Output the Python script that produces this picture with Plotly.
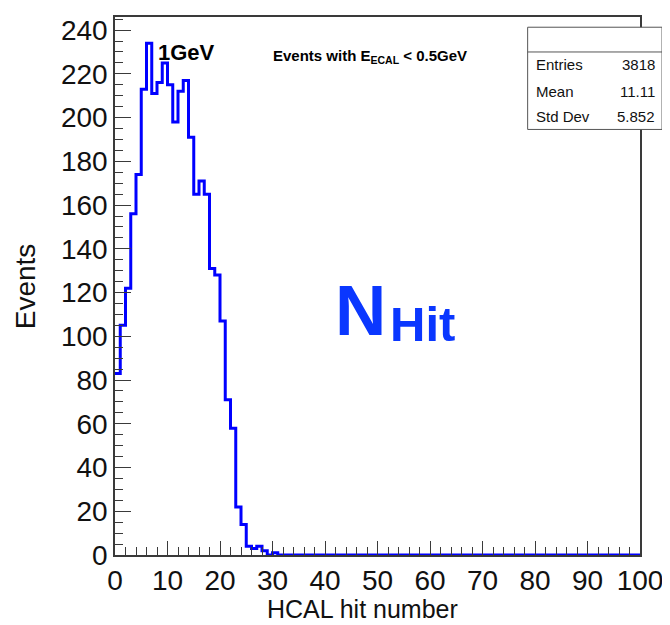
"""HCAL hit number histogram - ROOT-style Plotly rebuild."""
import plotly.graph_objects as go

FONT = "Liberation Sans, Arial, Helvetica, sans-serif"
BLUE = "#0000ff"
NHIT_BLUE = "#0a37ff"
FRAME = "#3a3a3a"

# histogram content, 100 bins of width 1 between 0 and 100
bin_lo = 0
bin_hi = 100
counts = [83, 105, 122, 156, 174, 213, 234, 211, 216, 225,
          215, 198, 212, 217, 191, 165, 171, 165, 131, 128,
          107, 71, 58, 22, 14, 4, 3, 4, 2, 0,
          1]
counts = counts + [0] * (bin_hi - bin_lo - len(counts))
edges = list(range(bin_lo, bin_hi + 1))

stat_names = ["Entries", "Mean", "Std Dev"]
stat_values = ["3818", "11.11", "5.852"]

fig = go.Figure()
fig.add_trace(go.Scatter(
    x=edges, y=counts + [counts[-1]], mode="lines", line_shape="hv",
    line=dict(color=BLUE, width=3), showlegend=False, hoverinfo="skip"))

axis_common = dict(
    showgrid=False, zeroline=False, showline=True, mirror=True,
    linecolor=FRAME, linewidth=1.5, ticks="inside", tickcolor=FRAME,
    tickwidth=1.2, tickfont=dict(size=28, family=FONT, color="#111"))

# the page body adds an 8px offset, so the figure is 8px smaller than the window
fig.update_layout(
    width=662, height=617,
    margin=dict(l=107, r=29, t=7, b=70),
    paper_bgcolor="white", plot_bgcolor="white",
    font=dict(family=FONT, color="#111"),
    xaxis=dict(range=[0, 100], dtick=10, ticklen=14,
               minor=dict(dtick=2, ticks="inside", ticklen=8, tickcolor=FRAME),
               **axis_common),
    yaxis=dict(range=[0, 246], dtick=20, ticklen=16,
               minor=dict(dtick=5, ticks="inside", ticklen=8, tickcolor=FRAME),
               **axis_common),
)


def note(text, x, y, size, xanchor="center", yanchor="middle", color="#111", **kw):
    fig.add_annotation(text=text, xref="paper", yref="paper", x=x, y=y,
                       xanchor=xanchor, yanchor=yanchor, showarrow=False,
                       font=dict(size=size, family=FONT, color=color), **kw)


# axis titles
note("HCAL hit number", 0.4715, -0.101, 25)
note("Events", -0.171, 0.5, 28, textangle=-90)

# labels inside the frame
note("<b>1GeV</b>", 0.078, 0.934, 22, xanchor="left", color="#000")
note("<b>Events with E<sub>ECAL</sub> < 0.5GeV</b>", 0.298, 0.926, 15,
     xanchor="left", color="#000")
note("<b>N</b>", 0.415, 0.455, 71, xanchor="left", color=NHIT_BLUE)
note("<b>Hit</b>", 0.520, 0.43, 49, xanchor="left", color=NHIT_BLUE)

# stats box
fig.add_shape(type="rect", xref="paper", yref="paper",
              x0=0.786, x1=1.042, y0=0.791, y1=0.981,
              line=dict(color="#555", width=1), fillcolor="white", layer="above")
fig.add_shape(type="line", xref="paper", yref="paper",
              x0=0.786, x1=1.042, y0=0.935, y1=0.935,
              line=dict(color="#555", width=1), layer="above")
row_y = [0.912, 0.861, 0.815]
for name, val, yy in zip(stat_names, stat_values, row_y):
    note(name, 0.7985, yy, 15, xanchor="left")
    note(val, 1.033, yy, 15, xanchor="right")

fig.write_html("out.html")
